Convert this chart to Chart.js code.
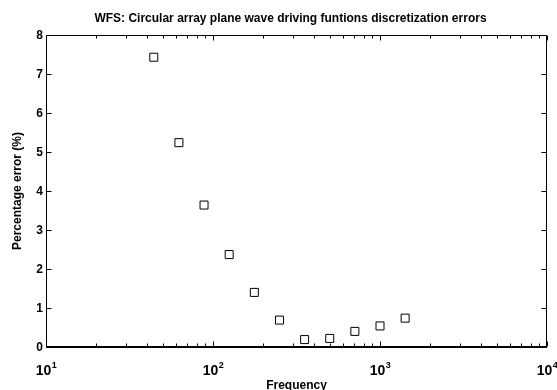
<!DOCTYPE html>
<html>
<head>
<meta charset="utf-8">
<script src="https://cdn.jsdelivr.net/npm/chart.js@4.4.1/dist/chart.umd.min.js"></script>
<style>
html,body{margin:0;padding:0;background:#fff;}
canvas{display:block;}
</style>
</head>
<body>
<canvas id="c" width="557" height="390"></canvas>
<script>
// Data
const frequencies = [44.2, 62.5, 88.4, 125, 176.8, 250, 353.6, 500, 707.1, 1000, 1414.2];
const percentErrors = [7.43, 5.24, 3.64, 2.37, 1.40, 0.69, 0.19, 0.22, 0.40, 0.54, 0.74];
const yTickValues = [0, 1, 2, 3, 4, 5, 6, 7, 8];
const xTickExponents = [1, 2, 3, 4];
const titleText = 'WFS: Circular array plane wave driving funtions discretization errors';
const xLabelText = 'Frequency';
const yLabelText = 'Percentage error (%)';

const FONT = '"Liberation Sans", Arial, Helvetica, sans-serif';

const axesPlugin = {
  id: 'matlabAxes',
  afterDraw(chart) {
    const ctx = chart.ctx;
    const xs = chart.scales.x, ys = chart.scales.y;
    const a = chart.chartArea;
    const L = Math.round(a.left) + 0.5, R = Math.round(a.right) - 0.5;
    const T = Math.round(a.top) + 0.5, B = Math.round(a.bottom) - 0.5;
    ctx.save();
    ctx.strokeStyle = '#000';
    ctx.lineWidth = 1;
    // box
    ctx.beginPath();
    ctx.rect(L, T, R - L, B - T);
    ctx.stroke();
    ctx.lineWidth = 2;
    ctx.beginPath(); ctx.moveTo(L - 0.5, B + 0.5); ctx.lineTo(R + 0.5, B + 0.5); ctx.stroke();
    ctx.lineWidth = 1;
    // x ticks (log, major + minor)
    const majors = xTickExponents.map(e => Math.pow(10, e));
    const xt = [];
    for (let e = xTickExponents[0]; e < xTickExponents[xTickExponents.length - 1]; e++) {
      for (let m = 1; m <= 9; m++) xt.push(m * Math.pow(10, e));
    }
    xt.push(Math.pow(10, xTickExponents[xTickExponents.length - 1]));
    ctx.beginPath();
    xt.forEach(v => {
      const px = Math.round(xs.getPixelForValue(v)) + 0.5;
      const isMajor = majors.some(m => Math.abs(m - v) < 1e-6 * m);
      const len = isMajor ? 5 : 3;
      ctx.moveTo(px, B); ctx.lineTo(px, B - len);
      ctx.moveTo(px, T); ctx.lineTo(px, T + len);
    });
    // y ticks
    yTickValues.forEach(v => {
      const py = Math.round(ys.getPixelForValue(v)) + 0.5;
      ctx.moveTo(L, py); ctx.lineTo(L + 5, py);
      ctx.moveTo(R, py); ctx.lineTo(R - 5, py);
    });
    ctx.stroke();

    ctx.fillStyle = '#000';
    // y tick labels
    ctx.font = 'bold 12px ' + FONT;
    ctx.textAlign = 'right';
    ctx.textBaseline = 'middle';
    yTickValues.forEach(v => {
      ctx.fillText(String(v), a.left - 3, ys.getPixelForValue(v) + 1);
    });
    // x tick labels 10^n
    xTickExponents.forEach(e => {
      const px = xs.getPixelForValue(Math.pow(10, e));
      ctx.font = 'bold 14px ' + FONT;
      const w1 = ctx.measureText('10').width;
      ctx.font = 'bold 9px ' + FONT;
      const w2 = ctx.measureText(String(e)).width;
      const x0 = px - (w1 + w2) / 2;
      ctx.textAlign = 'left';
      ctx.textBaseline = 'alphabetic';
      ctx.font = 'bold 14px ' + FONT;
      ctx.fillText('10', x0, 375);
      ctx.font = 'bold 9px ' + FONT;
      ctx.fillText(String(e), x0 + w1 + 0.5, 368);
    });
    // title
    ctx.font = 'bold 12px ' + FONT;
    ctx.textAlign = 'center';
    ctx.textBaseline = 'alphabetic';
    ctx.fillText(titleText, (a.left + a.right) / 2 - 6, 22);
    // x label
    ctx.fillText(xLabelText, (a.left + a.right) / 2, 389);
    // y label
    ctx.save();
    ctx.translate(21, (a.top + a.bottom) / 2);
    ctx.rotate(-Math.PI / 2);
    ctx.fillText(yLabelText, 0, 0);
    ctx.restore();
    ctx.restore();
  }
};

new Chart(document.getElementById('c'), {
  type: 'scatter',
  data: {
    datasets: [{
      data: frequencies.map((f, i) => ({ x: f, y: percentErrors[i] })),
      pointStyle: 'rect',
      pointRadius: 5.66,
      pointHoverRadius: 5.66,
      borderColor: '#000',
      backgroundColor: 'rgba(0,0,0,0)',
      pointBorderWidth: 1,
      borderWidth: 1,
      showLine: false,
      clip: false
    }]
  },
  options: {
    responsive: false,
    animation: false,
    devicePixelRatio: 1,
    events: [],
    layout: { padding: { left: 38, top: 35, right: 10, bottom: 35 } },
    plugins: { legend: { display: false }, title: { display: false }, tooltip: { enabled: false } },
    scales: {
      x: {
        type: 'logarithmic',
        min: Math.pow(10, xTickExponents[0]),
        max: Math.pow(10, xTickExponents[xTickExponents.length - 1]),
        ticks: { display: false },
        grid: { display: false },
        border: { display: false }
      },
      y: {
        type: 'linear',
        min: yTickValues[0],
        max: yTickValues[yTickValues.length - 1],
        ticks: { display: false },
        grid: { display: false },
        border: { display: false }
      }
    }
  },
  plugins: [axesPlugin]
});
</script>
</body>
</html>
